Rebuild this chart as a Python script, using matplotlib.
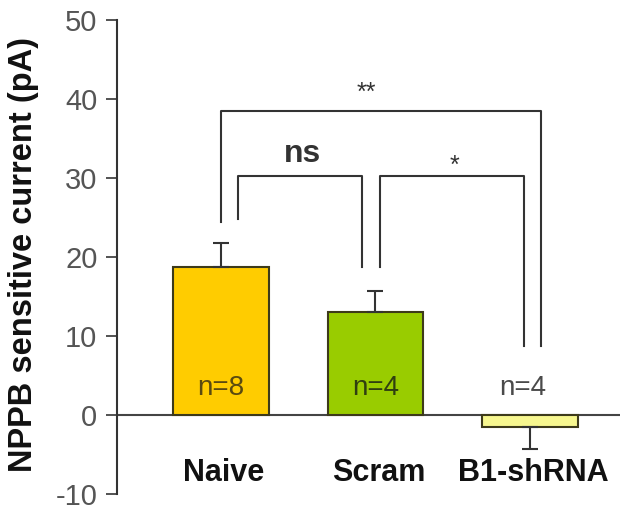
import numpy as np
import matplotlib
matplotlib.use('Agg')
import matplotlib.pyplot as plt

plt.rcParams['font.family'] = ['Liberation Sans', 'DejaVu Sans']
plt.rcParams['axes.unicode_minus'] = False

# Données
groups = ['Naive', 'Scram', 'B1-shRNA']
means = [18.7, 13.0, -1.5]
sems = [3.1, 2.7, 2.8]
n_labels = ['n=8', 'n=4', 'n=4']
bar_colors = ['#FFCC00', '#99CC00', '#F7F78F']
n_colors = ['#5a4a10', '#2f3f10', '#4a4a4a']
yticks = [-10, 0, 10, 20, 30, 40, 50]

x = np.arange(len(groups))

fig = plt.figure(figsize=(6.35, 5.12), dpi=100)
ax = fig.add_axes([0.184, 0.035, 0.792, 0.926])

ax.bar(x, means, width=0.62, color=bar_colors, edgecolor='#3d3a1a', linewidth=1.5, zorder=2)

# Barres d'erreur (un seul côté)
for xi, m, s in zip(x, means, sems):
    err = [[0], [s]] if m >= 0 else [[s], [0]]
    ax.errorbar(xi, m, yerr=err, fmt='none', ecolor='#333333',
                elinewidth=1.5, capsize=6, capthick=1.5, zorder=3)

ax.axhline(0, color='#444444', linewidth=1.5, zorder=1)

# Crochets de significativité
def bracket(x1, x2, y1, y2, top, label, lx, ly, size, weight='normal'):
    ax.plot([x1, x1, x2, x2], [y1, top, top, y2], color='#333333', linewidth=1.5, zorder=3)
    ax.text(lx, ly, label, ha='center', va='center', fontsize=size, fontweight=weight, color='#333333')

bracket(0.0, 2.07, 24.4, 8.7, 38.5, '**', 0.94, 40.8, 18)
bracket(0.11, 0.91, 24.8, 18.7, 30.2, 'ns', 0.53, 33.0, 23, 'bold')
bracket(1.03, 1.96, 18.7, 8.7, 30.2, '*', 1.51, 31.5, 18)

for xi, lab, c in zip(x, n_labels, n_colors):
    ax.text(xi if xi < 2 else xi - 0.05, 3.4, lab, ha='center', va='center', fontsize=20, color=c)

for xi, g in zip(x, groups):
    ax.text(xi + 0.02, -7.3, g, ha='center', va='center', fontsize=22, fontweight='bold', color='#111111')

ax.set_xlim(-0.673, 2.58)
ax.set_ylim(-10, 50)
ax.set_yticks(yticks)
ax.tick_params(axis='y', direction='out', length=8, width=1.3, labelsize=21, colors='#444444',
               labelcolor='#555555', pad=6)
ax.set_xticks([])
for side in ['top', 'right', 'bottom']:
    ax.spines[side].set_visible(False)
ax.spines['left'].set_linewidth(1.5)
ax.spines['left'].set_color('#333333')
ax.set_ylabel('NPPB sensitive current (pA)', fontsize=23.5, fontweight='bold', color='#111111')
ax.yaxis.set_label_coords(-0.155, 0.505)

fig.savefig('out.png', dpi=100)
